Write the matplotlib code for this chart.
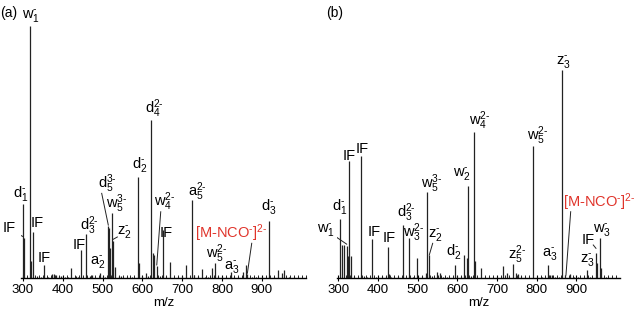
import matplotlib
matplotlib.use('AGG')
from matplotlib import pyplot as plt
from matplotlib.ticker import MultipleLocator

plt.rcParams['font.family'] = ['Liberation Sans', 'DejaVu Sans']
plt.rcParams['mathtext.fontset'] = 'custom'
plt.rcParams['mathtext.rm'] = 'Liberation Sans'
plt.rcParams['mathtext.it'] = 'Liberation Sans'
plt.rcParams['mathtext.bf'] = 'Liberation Sans:bold'

# panel (a) peaks: m/z and relative intensity (%)
mz_a = [300.8, 302.5, 317.6, 320, 326, 353.6, 373.7, 378.6, 383.7, 395.5, 420.6,
        445, 458.3, 474, 493.5, 513.6, 516.9, 519.3, 523.6, 525.3, 531, 540,
        589.7, 591, 610, 621.6, 626.6, 630, 636, 652.5, 669.3, 709.5, 725.4, 730,
        749, 774, 782.4, 821.9, 853.5, 859.5, 863.6, 918.9, 941.6, 950, 956.6]
int_a = [29.2, 16, 100, 6.8, 18.3, 5.2, 1.6, 1.6, 1.2, 0.8, 4.0,
         11.0, 17.5, 1.2, 2.0, 20.7, 19.9, 12, 25.8, 14.7, 4.4, 1.0,
         40.2, 6, 2, 62.5, 10, 9.2, 4.8, 18.9, 6.4, 5.2, 31.1, 1.2,
         3.6, 4.0, 6.0, 2.4, 2.4, 5.2, 1.6, 22.7, 3.2, 2, 3.2]

# panel (b) peaks
mz_b = [304.3, 310, 314.4, 321, 324.4, 327.8, 331, 356.4, 384, 426, 428,
        462.2, 478, 499, 520, 524.2, 528.5, 547.8, 556, 594, 616.6, 623.4,
        627.5, 642.6, 645, 658.6, 714, 724, 739.3, 746.8, 751.9, 789.7, 829,
        833, 838, 862.7, 871, 883.6, 925.7, 948.3, 951.6, 959, 962]
int_b = [28.2, 16.1, 15.9, 15.5, 10.6, 56.5, 10.6, 58.9, 18.7, 15, 2,
         25.6, 19.3, 9.7, 2.4, 41.5, 11.1, 2.9, 2.4, 6.3, 11.1, 9.7,
         44.4, 70, 8.2, 4.8, 5.8, 2.4, 6.8, 2.4, 1.9, 63.5, 6.3,
         1.4, 1.4, 100, 1.4, 1.9, 3.9, 12.1, 7.2, 19.3, 4.8]

# low-level peaks along the baseline
noise_a = [335, 345, 362, 390, 405, 412, 432, 437, 468, 482, 500, 505, 545, 552,
           560, 575, 600, 615, 645, 660, 690, 700, 740, 757, 765, 790, 800, 810,
           830, 840, 875, 885, 900, 930, 968, 980]
noise_a_int = [0.8, 0.6, 0.5, 0.7, 0.6, 0.5, 0.8, 0.6, 0.7, 0.6, 0.8, 0.6, 0.7, 0.5,
               0.6, 0.5, 0.7, 0.8, 1.0, 0.8, 0.6, 0.7, 0.8, 0.6, 0.5, 0.7, 0.6, 0.5,
               0.6, 0.5, 0.6, 0.5, 0.6, 0.5, 0.5, 0.4]
noise_b = [340, 365, 372, 395, 410, 420, 432, 440, 450, 488, 510, 535, 565, 575,
           600, 608, 635, 670, 690, 700, 730, 760, 770, 800, 812, 845, 855, 895,
           905, 935, 975]
noise_b_int = [0.8, 1.0, 0.6, 0.7, 0.8, 1.2, 0.7, 0.6, 0.8, 0.7, 0.8, 0.9, 0.6, 0.7,
               0.8, 0.9, 0.8, 0.6, 0.7, 0.6, 0.7, 0.8, 0.6, 0.7, 0.6, 0.7, 0.6, 0.7,
               0.6, 0.7, 0.5]

RED = '#e0342b'


def ion(letter, sub, charge):
    # stacked subscript / superscript with a short hyphen as in the figure
    return r'$\mathregular{%s_{%s}^{%s\text{-}}}$' % (letter, sub, charge)


# labels: text, x (m/z), y (%)
labels_a = [
    (ion('w', 1, ''), 320.1, 102.7),
    (ion('d', 1, ''), 293.7, 32.3),
    ('IF', 266, 18.4),
    ('IF', 335.2, 20.1),
    ('IF', 352.8, 6.5),
    (ion('d', 3, '2'), 467.1, 19.0),
    ('IF', 442, 11.4),
    (ion('a', 2, ''), 488.4, 5.2),
    (ion('d', 5, '3'), 512.3, 35.6),
    (ion('w', 5, '3'), 536.2, 27.7),
    (ion('z', 2, ''), 555, 17.3),
    (ion('d', 2, ''), 594, 43.5),
    (ion('d', 4, '2'), 630.4, 65.4),
    (ion('w', 4, '2'), 656.8, 28.6),
    ('IF', 659.3, 16.4),
    (ion('a', 5, '2'), 739, 32.7),
    (ion('w', 5, '2'), 786, 7.8),
    (ion('a', 3, ''), 824, 3.4),
    (ion('d', 3, ''), 918.1, 27.0),
]
leaders_a = [((279.9, 18.1), (300.8, 16.4)), ((497.7, 33.6), (514.3, 21.0)),
             ((537, 16.3), (526.9, 15.4)), ((646, 26.3), (636, 5.2)),
             ((874.6, 13.8), (863.6, 1.9))]

labels_b = [
    (ion('d', 1, ''), 304.3, 32.7),
    (ion('w', 1, ''), 267.8, 21.5),
    ('IF', 328.2, 56.7),
    ('IF', 359.7, 60.0),
    ('IF', 389.9, 20.2),
    ('IF', 429, 17.5),
    (ion('d', 3, '2'), 470.5, 29.5),
    (ion('w', 3, '2'), 490.7, 19.9),
    (ion('z', 2, ''), 544.8, 19.1),
    (ion('w', 5, '3'), 536, 43.1),
    (ion('d', 2, ''), 591.4, 11.1),
    (ion('w', 2, ''), 611.6, 48.7),
    (ion('w', 4, '2'), 656.9, 73.6),
    (ion('w', 5, '2'), 801.8, 66.3),
    (ion('z', 3, ''), 866, 102.4),
    (ion('z', 5, '2'), 750.1, 9.0),
    (ion('a', 3, ''), 833.2, 10.0),
    ('IF', 929, 16.3),
    (ion('w', 3, ''), 964.2, 21.5),
    (ion('z', 3, ''), 926.4, 7.4),
]
leaders_b = [((287.4, 20.7), (321.2, 16.3)), ((537.8, 16.7), (529.2, 11.1)),
             ((885.4, 31.9), (873.5, 1.4)), ((942.3, 15.9), (949.1, 14.3))]


def draw_panel(ax, mz, inten, nmz, nint, labels, leaders, xlim, ytop):
    ax.vlines(nmz, 0, nint, color='#222222', lw=0.8)
    ax.vlines(mz, 0, inten, color='#222222', lw=0.9)
    for txt, x, y in labels:
        ax.text(x, y, txt, ha='center', va='baseline', fontsize=10.5)
    for (x0, y0), (x1, y1) in leaders:
        ax.plot([x0, x1], [y0, y1], color='#222222', lw=0.7)
    ax.set_xlim(*xlim)
    ax.set_ylim(0, ytop)
    for sp in ['top', 'right', 'left']:
        ax.spines[sp].set_visible(False)
    ax.spines['bottom'].set_linewidth(1.0)
    ax.set_yticks([])
    ax.set_xticks([300, 400, 500, 600, 700, 800, 900])
    ax.xaxis.set_minor_locator(MultipleLocator(10))
    ax.tick_params(axis='x', which='major', direction='inout', length=4, width=0.8,
                   labelsize=9.5, pad=2)
    ax.tick_params(axis='x', which='minor', direction='in', length=2, width=0.6)
    ax.set_xlabel('m/z', fontsize=9.5, labelpad=1)


fig = plt.figure(figsize=(6.34, 3.2), dpi=100)
ax1 = fig.add_axes([0.0327, 0.131, 0.45, 0.844])
ax2 = fig.add_axes([0.5315, 0.131, 0.4464, 0.844])

draw_panel(ax1, mz_a, int_a, noise_a, noise_a_int, labels_a, leaders_a, (294.3, 1011), 107.1)
ax1.text(732.2, 16.0, r'[M-NCO$^{\text{-}}$]$^{2\text{-}}$', color=RED, ha='left',
         va='baseline', fontsize=10.5)
draw_panel(ax2, mz_b, int_b, noise_b, noise_b_int, labels_b, leaders_b, (296.7, 1009.6), 129.8)
ax2.text(866.8, 34.3, r'[M-NCO$^{\text{-}}$]$^{2\text{-}}$', color=RED, ha='left',
         va='baseline', fontsize=10.5)

fig.text(0.0, 0.96, '(a)', fontsize=10, ha='left', va='center')
fig.text(0.515, 0.96, '(b)', fontsize=10, ha='left', va='center')

plt.savefig('out.png', dpi=100)
